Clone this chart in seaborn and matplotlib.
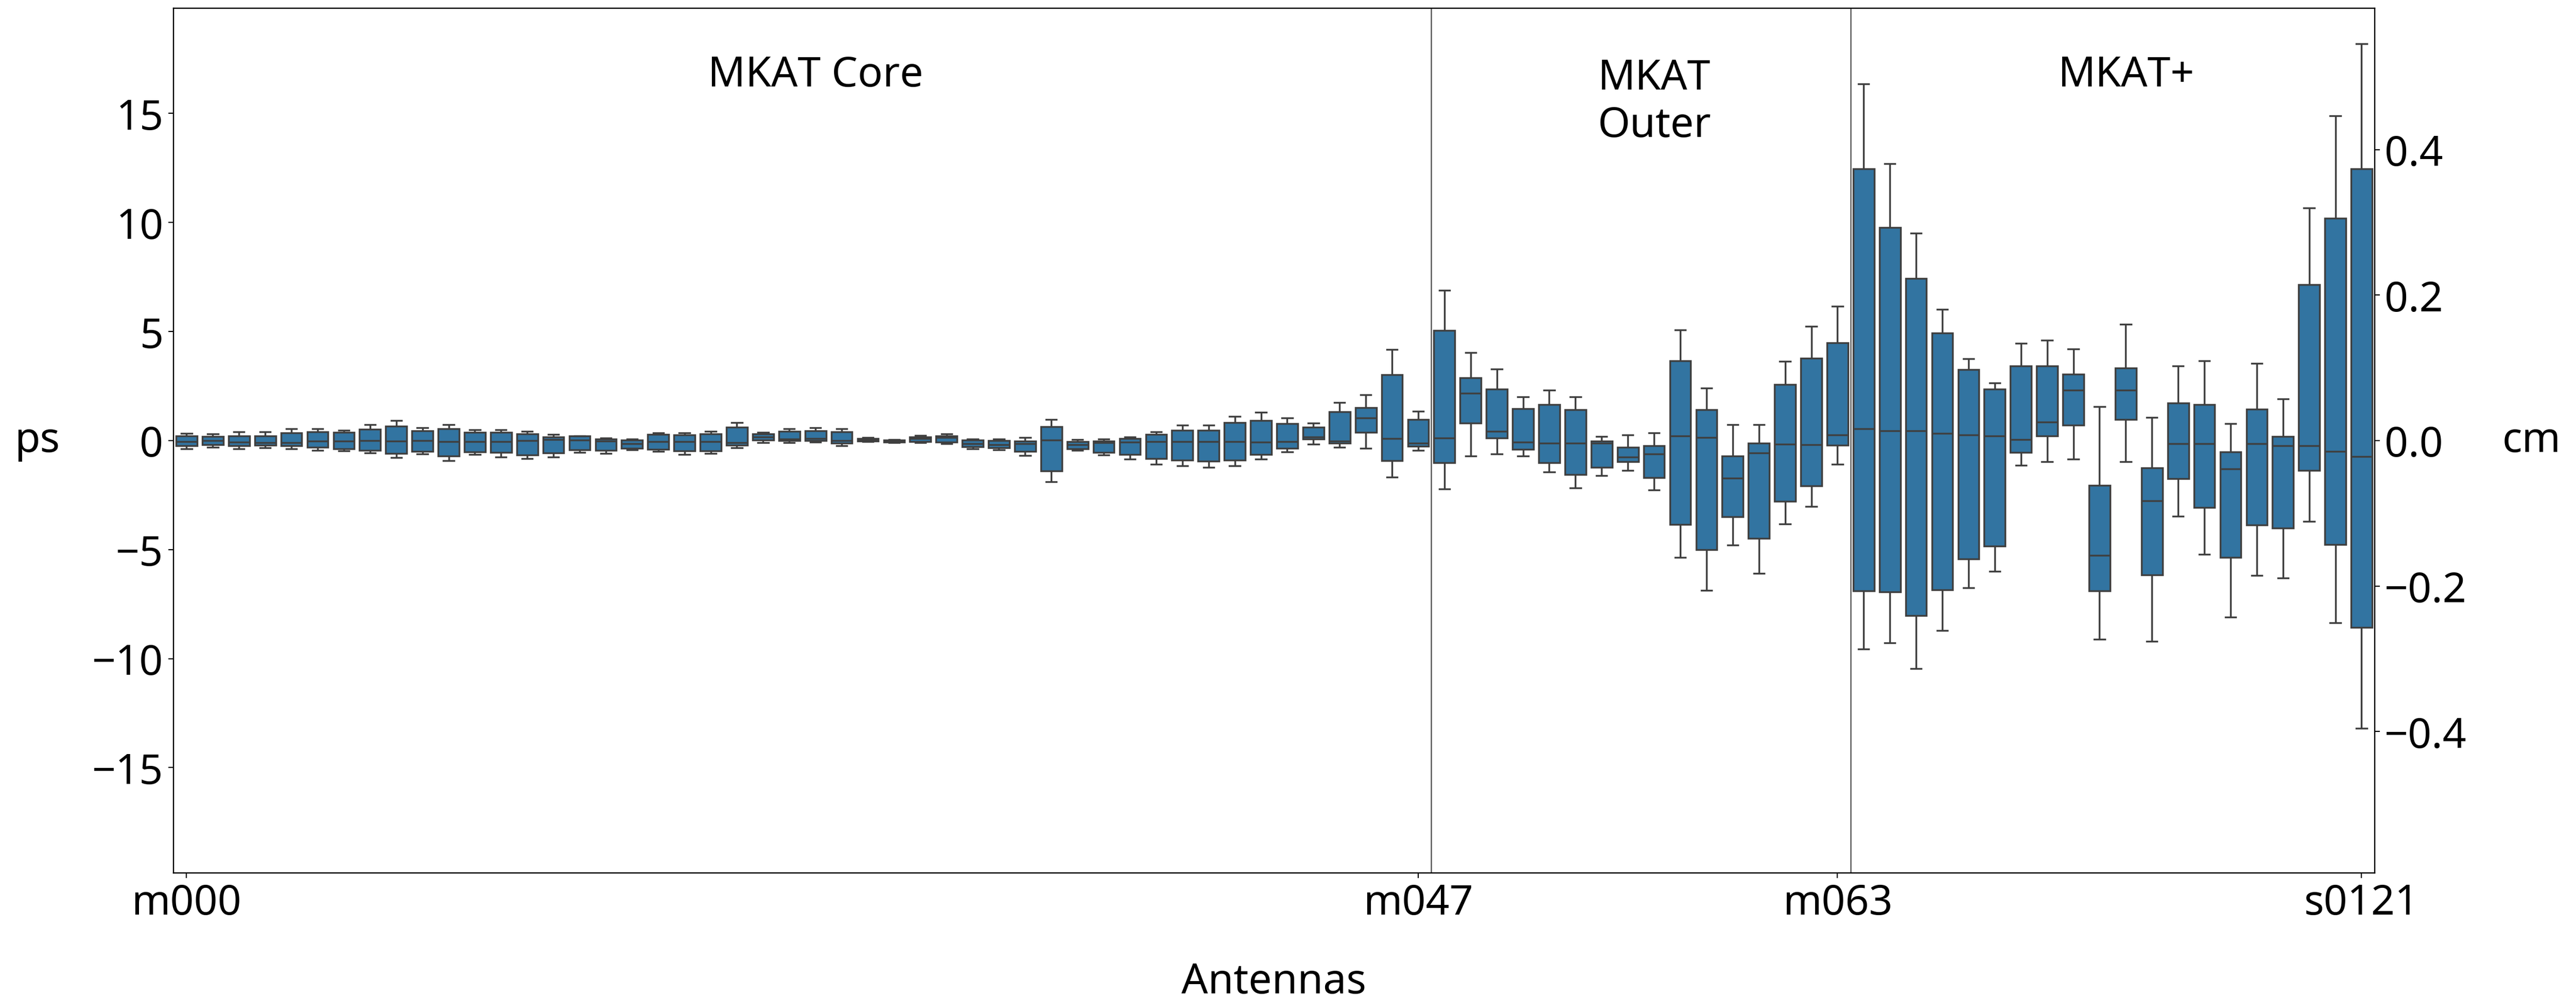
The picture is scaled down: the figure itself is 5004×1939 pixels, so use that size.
import numpy as np
import pandas as pd
import matplotlib
matplotlib.use("Agg")
import matplotlib.pyplot as plt
import seaborn as sns

# ---------------- data (ps) ----------------
core_outer = [f"m{i:03d}" for i in range(64)]
plus = ["s0000", "s0001", "s0002", "s0003", "s0004", "s0005", "s0006", "s0007",
        "s0008", "s0009", "s0010", "s0011", "s0012", "s0013", "s0014", "s0015",
        "s0016", "s0017", "s0018", "s0121"]
antennas = core_outer + plus

whisker_high = [0.33, 0.30, 0.40, 0.40, 0.55, 0.55, 0.48, 0.72, 0.92, 0.58,
                0.72, 0.49, 0.49, 0.43, 0.29, 0.22, 0.12, 0.08, 0.35, 0.35,
                0.42, 0.83, 0.38, 0.55, 0.59, 0.53, 0.14, 0.05, 0.23, 0.30,
                0.08, 0.08, 0.14, 0.96, 0.05, 0.07, 0.16, 0.40, 0.70, 0.70,
                1.10, 1.30, 1.04, 0.80, 1.75, 2.10, 4.17, 1.35, 6.90, 4.03,
                3.27, 2.00, 2.31, 2.00, 0.18, 0.25, 0.34, 5.08, 2.40, 0.74,
                0.74, 3.63, 5.24, 6.16, 16.36, 12.70, 9.50, 6.02, 3.76, 2.63,
                4.47, 4.59, 4.21, 1.55, 5.34, 1.05, 3.42, 3.66, 0.77, 3.55,
                1.90, 10.67, 14.90, 18.20]
q3 = [0.22, 0.18, 0.20, 0.20, 0.35, 0.40, 0.38, 0.52, 0.66, 0.44,
      0.54, 0.37, 0.37, 0.31, 0.16, 0.20, 0.07, 0.03, 0.27, 0.25,
      0.30, 0.60, 0.30, 0.42, 0.44, 0.40, 0.10, 0.03, 0.17, 0.20,
      0.02, 0.00, -0.03, 0.63, -0.06, -0.02, 0.09, 0.27, 0.46, 0.46,
      0.82, 0.92, 0.77, 0.61, 1.32, 1.52, 3.03, 0.96, 5.04, 2.87,
      2.37, 1.45, 1.66, 1.41, -0.02, -0.31, -0.25, 3.65, 1.41, -0.70,
      -0.11, 2.58, 3.78, 4.48, 12.47, 9.76, 7.44, 4.93, 3.26, 2.36,
      3.42, 3.42, 3.04, -2.05, 3.32, -1.26, 1.72, 1.66, -0.53, 1.43,
      0.19, 7.14, 10.20, 12.47]
median = [-0.06, 0.00, -0.08, -0.10, -0.10, -0.02, -0.02, 0.00, -0.03, 0.00,
          -0.05, -0.05, -0.05, 0.00, 0.05, 0.02, -0.02, -0.15, -0.04, -0.04,
          -0.04, -0.10, 0.17, 0.08, 0.10, 0.00, 0.03, -0.03, 0.09, 0.14,
          -0.15, -0.18, -0.15, 0.03, -0.18, -0.10, -0.08, -0.06, -0.06, -0.06,
          -0.06, -0.07, -0.06, 0.17, -0.02, 1.04, 0.10, -0.13, 0.11, 2.17,
          0.43, -0.07, -0.11, -0.11, -0.11, -0.76, -0.61, 0.20, 0.14, -1.72,
          -0.56, -0.16, -0.20, 0.25, 0.55, 0.44, 0.44, 0.32, 0.26, 0.21,
          0.05, 0.84, 2.31, -5.26, 2.31, -2.77, -0.15, -0.15, -1.30, -0.15,
          -0.24, -0.24, -0.49, -0.74]
q1 = [-0.25, -0.20, -0.25, -0.22, -0.25, -0.30, -0.38, -0.45, -0.60, -0.50,
      -0.70, -0.53, -0.55, -0.67, -0.57, -0.43, -0.45, -0.35, -0.40, -0.47,
      -0.47, -0.22, 0.02, 0.00, 0.00, -0.12, -0.02, -0.07, -0.06, -0.07,
      -0.28, -0.33, -0.50, -1.39, -0.39, -0.55, -0.64, -0.84, -0.90, -0.94,
      -0.90, -0.64, -0.36, 0.07, -0.12, 0.38, -0.93, -0.26, -1.01, 0.79,
      0.11, -0.40, -1.01, -1.57, -1.23, -0.98, -1.70, -3.85, -5.00, -3.49,
      -4.48, -2.78, -2.08, -0.21, -6.90, -6.95, -8.03, -6.86, -5.44, -4.83,
      -0.54, 0.21, 0.71, -6.90, 0.96, -6.16, -1.76, -3.07, -5.35, -3.88,
      -4.02, -1.37, -4.78, -8.56]
whisker_low = [-0.37, -0.32, -0.37, -0.33, -0.38, -0.45, -0.48, -0.58, -0.78, -0.62,
               -0.92, -0.65, -0.75, -0.84, -0.75, -0.55, -0.59, -0.43, -0.49, -0.65,
               -0.59, -0.34, -0.10, -0.10, -0.08, -0.24, -0.05, -0.10, -0.10, -0.15,
               -0.37, -0.43, -0.69, -1.90, -0.45, -0.67, -0.86, -1.10, -1.17, -1.22,
               -1.17, -0.86, -0.51, -0.16, -0.31, -0.35, -1.67, -0.44, -2.22, -0.70,
               -0.61, -0.70, -1.45, -2.17, -1.61, -1.36, -2.28, -5.35, -6.87, -4.79,
               -6.09, -3.83, -3.02, -1.10, -9.57, -9.28, -10.45, -8.71, -6.75, -6.00,
               -1.14, -0.97, -0.85, -9.12, -0.97, -9.21, -3.47, -5.21, -8.10, -6.18,
               -6.30, -3.70, -8.37, -13.19]

tick_antennas = ["m000", "m047", "m063", "s0121"]
groups = ["MKAT Core", "MKAT\nOuter", "MKAT+"]
group_label_x = [24, 56, 74]
group_label_y = [16.26, 13.95, 16.26]   # baseline of the last text line
group_boundaries = [47.5, 63.5]
PS_TO_CM = 0.0299792458

# long-form table: five values per antenna reproduce its box statistics
rows = []
for name, lo, a, m, b, hi in zip(antennas, whisker_low, q1, median, q3, whisker_high):
    for v in (lo, a, m, b, hi):
        rows.append((name, v))
df = pd.DataFrame(rows, columns=["antenna", "delay"])

# ---------------- figure ----------------
plt.rcParams["font.family"] = ["Noto Sans", "DejaVu Sans"]
FS = 29

fig = plt.figure(figsize=(25.02, 9.70), dpi=200)
ax = fig.add_axes([0.06735, 0.1253, 0.8545, 0.8660])

sns.boxplot(data=df, x="antenna", y="delay", order=antennas,
            whis=(0, 100), showfliers=False, color="C0",
            width=0.8, linewidth=1.25, ax=ax)

ylim = (-19.83, 19.83)
ax.set_ylim(*ylim)
ax.set_yticks([-15, -10, -5, 0, 5, 10, 15])

pos = [antennas.index(t) for t in tick_antennas]
ax.set_xticks(pos)
ax.set_xticklabels(tick_antennas)
ax.tick_params(axis="both", labelsize=FS)

for xb in group_boundaries:
    ax.axvline(xb, color="0.35", lw=0.9, zorder=0.5)

for label, xg, yg in zip(groups, group_label_x, group_label_y):
    ax.text(xg, yg, label, ha="center", va="baseline", fontsize=FS)

ax.set_xlabel("Antennas", fontsize=FS, va="baseline")
ax.xaxis.set_label_coords(0.5, -0.1387)
ax.set_ylabel("ps", fontsize=FS, rotation=0, ha="center", va="center")
ax.yaxis.set_label_coords(-0.062, 0.5)

ax2 = ax.twinx()
ax2.set_ylim(ylim[0] * PS_TO_CM, ylim[1] * PS_TO_CM)
ax2.set_yticks([-0.4, -0.2, 0.0, 0.2, 0.4])
ax2.tick_params(axis="y", labelsize=FS)
ax2.set_ylabel("cm", fontsize=FS, rotation=0, ha="center", va="center")
ax2.yaxis.set_label_coords(1.0713, 0.5)

fig.savefig("out.png", dpi=200, facecolor="white")
